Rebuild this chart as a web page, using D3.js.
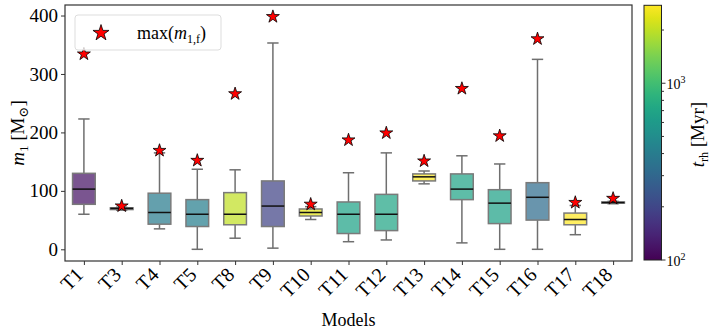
<!DOCTYPE html>
<html><head><meta charset="utf-8">
<script src="https://cdn.jsdelivr.net/npm/d3@7"></script>
<style>
body{margin:0;background:#fff;}
text{font-family:"Liberation Serif","DejaVu Serif",serif;fill:#000;}
</style></head>
<body><svg id="c" width="714" height="333"></svg>
<script>
const models = ["T1","T3","T4","T5","T8","T9","T10","T11","T12","T13","T14","T15","T16","T17","T18"];
const whiskerLow  = [60, 67, 35, 0, 19, 2, 51, 13, 16, 112, 11, 0, 0, 25, 78];
const q1          = [77, 68, 43, 39, 42, 39, 57, 27, 32, 117, 85, 44, 50, 42, 79];
const median      = [103, 70, 63, 60, 60, 74, 63, 60, 60, 124, 103, 79, 89, 51, 80];
const q3          = [130, 71, 96, 85, 97, 117, 69, 81, 94, 129, 129, 102, 114, 62, 81];
const whiskerHigh = [223, 72, 165, 137, 136, 353, 73, 131, 165, 134, 160, 146, 325, 75, 82];
const maxM1f      = [334, 74, 169, 152, 266, 398, 77, 187, 199, 151, 275, 194, 360, 80, 87];
const tRh         = [118, 500, 400, 410, 2000, 195, 2400, 680, 700, 2700, 690, 670, 320, 2760, 600];
const yTicks = [0, 100, 200, 300, 400];

const svg = d3.select("#c");
const L = 65, R = 632, T = 5, B = 261;

const x = d3.scaleLinear().domain([0.5, models.length + 0.5]).range([L, R]);
const y = d3.scaleLinear().domain([-20, 418]).range([B, T]);
const cnorm = d3.scaleLog().domain([100, 2760]).range([0, 1]);
const color = v => d3.interpolateViridis(cnorm(v));

const bw = (x(2) - x(1)) * 0.6;
const cw = bw / 2;

const g = svg.append("g");
models.forEach((m, i) => {
  const cx = x(i + 1);
  const gray = "#6f6f6f";
  g.append("line").attr("x1", cx).attr("x2", cx).attr("y1", y(q3[i])).attr("y2", y(whiskerHigh[i])).attr("stroke", gray).attr("stroke-width", 1.5);
  g.append("line").attr("x1", cx).attr("x2", cx).attr("y1", y(q1[i])).attr("y2", y(whiskerLow[i])).attr("stroke", gray).attr("stroke-width", 1.5);
  g.append("line").attr("x1", cx - cw/2).attr("x2", cx + cw/2).attr("y1", y(whiskerHigh[i])).attr("y2", y(whiskerHigh[i])).attr("stroke", gray).attr("stroke-width", 1.5);
  g.append("line").attr("x1", cx - cw/2).attr("x2", cx + cw/2).attr("y1", y(whiskerLow[i])).attr("y2", y(whiskerLow[i])).attr("stroke", gray).attr("stroke-width", 1.5);
  g.append("rect").attr("x", cx - bw/2).attr("width", bw)
    .attr("y", y(q3[i])).attr("height", Math.max(0.5, y(q1[i]) - y(q3[i])))
    .attr("fill", color(tRh[i])).attr("fill-opacity", 0.72)
    .attr("stroke", "#7a7a7a").attr("stroke-width", 1.5);
  g.append("line").attr("x1", cx - bw/2).attr("x2", cx + bw/2).attr("y1", y(median[i])).attr("y2", y(median[i])).attr("stroke", "#111").attr("stroke-width", 1.5);
});

const star = d3.symbol().type(d3.symbolStar).size(52);
models.forEach((m, i) => {
  g.append("path").attr("d", star()).attr("transform", `translate(${x(i+1)},${y(maxM1f[i])})`)
    .attr("fill", "#ff0000").attr("stroke", "#000").attr("stroke-width", 0.8);
});

svg.append("rect").attr("x", L).attr("y", T).attr("width", R - L).attr("height", B - T)
  .attr("fill", "none").attr("stroke", "#333").attr("stroke-width", 1.2);

const ya = svg.append("g").attr("transform", `translate(${L},0)`)
  .call(d3.axisLeft(y).tickValues(yTicks).tickSize(4).tickPadding(3));
ya.select(".domain").remove();
ya.selectAll("line").attr("stroke", "#333");
ya.selectAll("text").style("font-size", "19px").attr("fill", "#000");

const xa = svg.append("g").attr("transform", `translate(0,${B})`)
  .call(d3.axisBottom(x).tickValues(models.map((m, i) => i + 1)).tickFormat((d, i) => models[i]).tickSize(4));
xa.select(".domain").remove();
xa.selectAll("line").attr("stroke", "#333");
xa.selectAll("text").style("font-size", "20px").attr("text-anchor", "end")
  .attr("dy", null).attr("y", 0)
  .attr("transform", "translate(0,15) rotate(-45)");

svg.append("text").attr("x", (L + R) / 2).attr("y", 326).attr("text-anchor", "middle").style("font-size", "18px").text("Models");
const yl = svg.append("text").attr("transform", `translate(24,${(T + B) / 2}) rotate(-90)`).attr("text-anchor", "middle").style("font-size", "19px");
yl.append("tspan").attr("font-style", "italic").text("m");
yl.append("tspan").attr("dy", 4).style("font-size", "13px").text("1");
yl.append("tspan").attr("dy", -4).text(" [M");
yl.append("tspan").attr("dy", 4).style("font-size", "13px").text("⊙");
yl.append("tspan").attr("dy", -4).text("]");

const lg = svg.append("g");
lg.append("rect").attr("x", 75).attr("y", 15).attr("width", 146).attr("height", 35).attr("rx", 3)
  .attr("fill", "#fff").attr("fill-opacity", 0.8).attr("stroke", "#ddd").attr("stroke-width", 1);
lg.append("path").attr("d", d3.symbol().type(d3.symbolStar).size(80)()).attr("transform", "translate(101,33)")
  .attr("fill", "#ff0000").attr("stroke", "#000").attr("stroke-width", 0.8);
const lt = lg.append("text").attr("x", 137).attr("y", 39).style("font-size", "18px");
lt.append("tspan").text("max(");
lt.append("tspan").attr("font-style", "italic").text("m");
lt.append("tspan").attr("dy", 4).style("font-size", "12px").text("1,f");
lt.append("tspan").attr("dy", -4).text(")");

const cbL = 644, cbW = 17.5, cbT = 5.3, cbB = 260;
const defs = svg.append("defs");
const grad = defs.append("linearGradient").attr("id", "vg").attr("x1", 0).attr("x2", 0).attr("y1", 1).attr("y2", 0);
d3.range(0, 1.0001, 0.05).forEach(t => grad.append("stop").attr("offset", t).attr("stop-color", d3.interpolateViridis(t)));
svg.append("rect").attr("x", cbL).attr("y", cbT).attr("width", cbW).attr("height", cbB - cbT)
  .attr("fill", "url(#vg)").attr("stroke", "#222").attr("stroke-width", 1);
const cy = d3.scaleLog().domain([100, 2760]).range([cbB, cbT]);
const cbMajor = [100, 1000];
const cbMinor = [200, 300, 400, 500, 600, 700, 800, 900, 2000];
cbMinor.forEach(v => svg.append("line").attr("x1", cbL + cbW).attr("x2", cbL + cbW + 2.5).attr("y1", cy(v)).attr("y2", cy(v)).attr("stroke", "#333"));
cbMajor.forEach(v => {
  svg.append("line").attr("x1", cbL + cbW).attr("x2", cbL + cbW + 4).attr("y1", cy(v)).attr("y2", cy(v)).attr("stroke", "#333");
  const t = svg.append("text").attr("x", cbL + cbW + 5).attr("y", cy(v) + 6).style("font-size", "14px");
  t.append("tspan").text("10");
  t.append("tspan").attr("dy", -6).style("font-size", "10px").text(String(Math.round(Math.log10(v))));
});
const cl = svg.append("text").attr("transform", `translate(704,${(cbT + cbB) / 2 + 2}) rotate(-90)`).attr("text-anchor", "middle").style("font-size", "19px");
cl.append("tspan").attr("font-style", "italic").text("t");
cl.append("tspan").attr("dy", 4).style("font-size", "12px").text("rh");
cl.append("tspan").attr("dy", -4).text(" [Myr]");
</script></body></html>
